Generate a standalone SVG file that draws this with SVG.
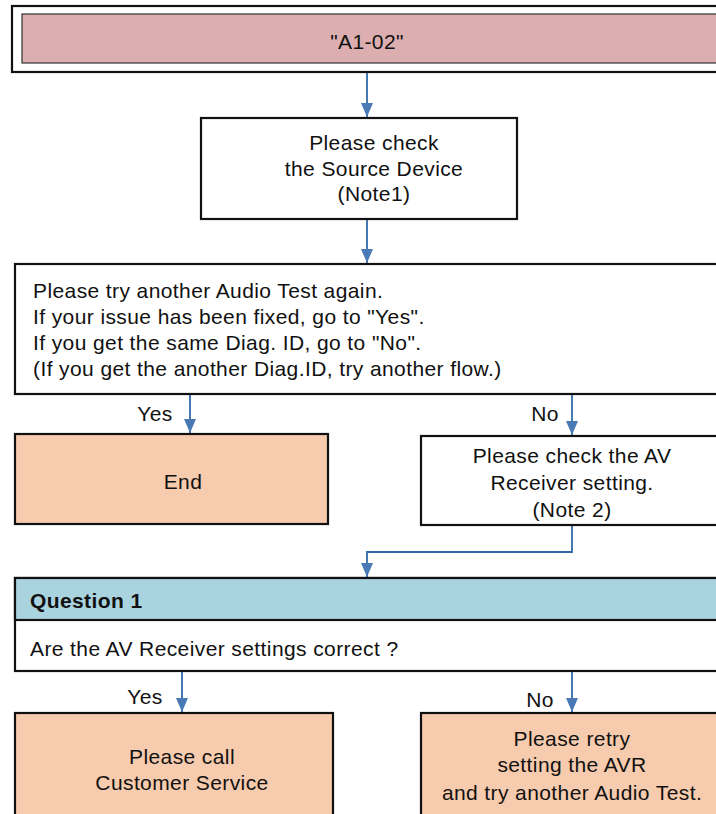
<svg xmlns="http://www.w3.org/2000/svg" width="716" height="814" viewBox="0 0 716 814">
<style>
text{font-family:"Liberation Sans",Arial,sans-serif;font-size:21px;letter-spacing:0.4px;fill:#111}
.c{text-anchor:middle}
.box{stroke:#111;stroke-width:2.2}
.con{fill:none;stroke:#2f6aa8;stroke-width:1.8}
</style>
<defs>
<marker id="ah" viewBox="0 0 14 12" refX="14" refY="6" markerWidth="14" markerHeight="12" markerUnits="userSpaceOnUse" orient="auto">
<path d="M0,0 L14,6 L0,12 Z" fill="#4a7ab5"/>
</marker>
</defs>
<g id="connectors">
<path class="con" d="M367,72 V117" marker-end="url(#ah)"/>
<path class="con" d="M367,219 V263" marker-end="url(#ah)"/>
<path class="con" d="M190,394 V433" marker-end="url(#ah)"/>
<path class="con" d="M572,394 V435" marker-end="url(#ah)"/>
<path class="con" d="M572,525 V552 H367 V577" marker-end="url(#ah)"/>
<path class="con" d="M182,671 V712" marker-end="url(#ah)"/>
<path class="con" d="M572,671 V712" marker-end="url(#ah)"/>
<text x="155" y="421" class="c">Yes</text>
<text x="545" y="421" class="c">No</text>
<text x="145" y="704" class="c">Yes</text>
<text x="540" y="707" class="c">No</text>
</g>
<g id="start">
<rect x="12" y="6" width="710" height="66" fill="#fff" class="box"/>
<rect x="22" y="14" width="700" height="49" fill="#dcaeb0" stroke="#333" stroke-width="1.2"/>
<text x="367" y="49" class="c">"A1-02"</text>
</g>
<g id="check-source">
<rect x="201" y="118" width="316" height="101" fill="#fff" class="box"/>
<text x="374" y="150" class="c">Please check</text>
<text x="374" y="176" class="c">the Source Device</text>
<text x="374" y="201" class="c">(Note1)</text>
</g>
<g id="try-again">
<rect x="15" y="264" width="710" height="130" fill="#fff" class="box"/>
<text x="33" y="298">Please try another Audio Test again.</text>
<text x="33" y="324">If your issue has been fixed, go to "Yes".</text>
<text x="33" y="350">If you get the same Diag. ID, go to "No".</text>
<text x="33" y="376">(If you get the another Diag.ID, try another flow.)</text>
</g>
<g id="end">
<rect x="15" y="434" width="313" height="90" fill="#f7cbad" class="box"/>
<text x="183" y="489" class="c">End</text>
</g>
<g id="check-avr">
<rect x="421" y="436" width="305" height="89" fill="#fff" class="box"/>
<text x="572" y="463" class="c">Please check the AV</text>
<text x="572" y="490" class="c">Receiver setting.</text>
<text x="572" y="517" class="c">(Note 2)</text>
</g>
<g id="question1">
<rect x="15" y="578" width="710" height="93" fill="#fff" class="box"/>
<rect x="15" y="578" width="710" height="42" fill="#a9d4df" class="box"/>
<text x="30" y="608" font-weight="bold">Question 1</text>
<text x="30" y="656">Are the AV Receiver settings correct ?</text>
</g>
<g id="call-service">
<rect x="15" y="713" width="318" height="110" fill="#f7cbad" class="box"/>
<text x="182" y="764" class="c">Please call</text>
<text x="182" y="790" class="c">Customer Service</text>
</g>
<g id="retry">
<rect x="421" y="713" width="305" height="110" fill="#f7cbad" class="box"/>
<text x="572" y="746" class="c">Please retry</text>
<text x="572" y="772" class="c">setting the AVR</text>
<text x="572" y="800" class="c">and try another Audio Test.</text>
</g>
</svg>
